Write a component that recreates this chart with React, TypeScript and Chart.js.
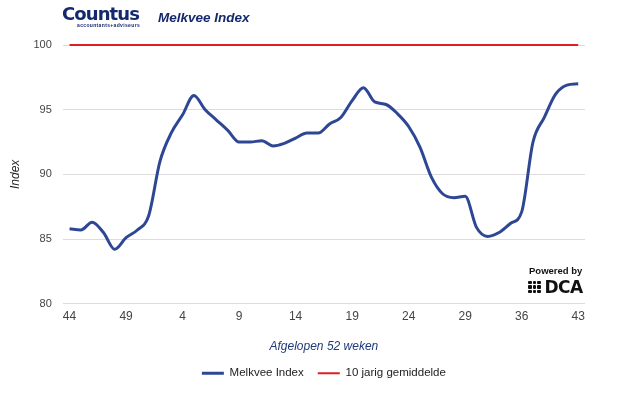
import React, { useEffect, useRef } from "react";
import { Chart, registerables } from "chart.js";

Chart.register(...registerables);

const weekTickLabels = ["44", "49", "4", "9", "14", "19", "24", "29", "36", "43"];
const tickEvery = 5;

const melkveeIndex = [
  85.8, 85.7, 86.3, 85.5, 84.2, 85.1, 85.7, 86.8, 91.0, 93.2,
  94.6, 96.1, 95.0, 94.2, 93.4, 92.5, 92.5, 92.6, 92.2, 92.4,
  92.8, 93.2, 93.2, 93.9, 94.4, 95.7, 96.7, 95.6, 95.4, 94.7,
  93.7, 92.1, 89.8, 88.5, 88.2, 88.3, 85.9, 85.2, 85.5, 86.2,
  87.1, 92.5, 94.4, 96.2, 96.9, 97.0,
];
const tienJarigGemiddelde = melkveeIndex.map(() => 100);

const yTicks = [80, 85, 90, 95, 100];

const FONT = "Liberation Sans, Arial, sans-serif";

export default function App() {
  const ref = useRef<HTMLCanvasElement | null>(null);

  useEffect(() => {
    if (!ref.current) return;
    const n = melkveeIndex.length;
    const chart = new Chart(ref.current, {
      type: "line",
      data: {
        datasets: [
          {
            label: "Melkvee Index",
            data: melkveeIndex.map((v, i) => ({ x: i, y: v })),
            borderColor: "#2e4795",
            backgroundColor: "#2e4795",
            borderWidth: 3,
            pointRadius: 0,
            cubicInterpolationMode: "monotone",
            fill: false,
            clip: false,
          },
          {
            label: "10 jarig gemiddelde",
            data: tienJarigGemiddelde.map((v, i) => ({ x: i, y: v })),
            borderColor: "#e02020",
            backgroundColor: "#e02020",
            borderWidth: 2,
            pointRadius: 0,
            fill: false,
            clip: false,
          },
        ],
      },
      options: {
        animation: false,
        responsive: false,
        maintainAspectRatio: false,
        layout: { padding: { top: 45, left: 8, right: 40, bottom: 4 } },
        plugins: {
          legend: {
            position: "bottom",
            fullSize: false,
            labels: {
              usePointStyle: true,
              pointStyle: "line",
              pointStyleWidth: 22,
              boxHeight: 12,
              color: "#222",
              padding: 14,
              font: { family: FONT, size: 11.5 },
            },
          },
          tooltip: { enabled: false },
        },
        scales: {
          x: {
            type: "linear",
            min: -0.6,
            max: n - 1 + 0.6,
            afterBuildTicks: (scale: any) => {
              scale.ticks = weekTickLabels.map((_, k) => ({ value: k * tickEvery }));
            },
            ticks: {
              autoSkip: false,
              maxRotation: 0,
              padding: 6,
              color: "#444",
              font: { family: FONT, size: 12 },
              callback: (value: any) => weekTickLabels[Math.round(Number(value) / tickEvery)] ?? "",
            },
            grid: { display: false, drawTicks: false },
            border: { display: false },
            title: {
              display: true,
              text: "Afgelopen 52 weken",
              color: "#1f3a7a",
              padding: { top: 9, bottom: 0 },
              font: { family: FONT, size: 12, style: "italic" },
            },
          },
          y: {
            min: 80,
            max: 100,
            afterBuildTicks: (scale: any) => {
              scale.ticks = yTicks.map((v) => ({ value: v }));
            },
            ticks: {
              padding: 11,
              color: "#444",
              font: { family: FONT, size: 11 },
            },
            grid: { color: "#dcdcdc", drawTicks: false },
            border: { display: false },
            title: {
              display: true,
              text: "Index",
              color: "#222",
              padding: { top: 0, bottom: 0 },
              font: { family: FONT, size: 12, style: "italic" },
            },
          },
        },
      },
    });
    return () => chart.destroy();
  }, []);

  const dot: React.CSSProperties = {
    width: 3.5,
    height: 3.5,
    borderRadius: 1,
    background: "#111",
  };

  return (
    <div
      style={{
        position: "absolute",
        left: 0,
        top: 0,
        width: 625,
        height: 393,
        background: "#fff",
        fontFamily: FONT,
      }}
    >
      <canvas ref={ref} width={625} height={393} style={{ position: "absolute", left: 0, top: 0 }} />
      <div style={{ position: "absolute", left: 62, top: 5, color: "#14286e", lineHeight: 1 }}>
        <div style={{ fontSize: 18, fontWeight: 900, letterSpacing: -0.9, fontFamily: "DejaVu Sans, sans-serif" }}>Countus</div>
        <div style={{ fontSize: 5, fontWeight: 700, marginLeft: 15, marginTop: 0, letterSpacing: 0.35 }}>accountants+adviseurs</div>
      </div>
      <div
        style={{
          position: "absolute",
          left: 158,
          top: 10,
          fontSize: 13.5,
          fontWeight: 700,
          fontStyle: "italic",
          color: "#14286e",
          fontFamily: FONT,
        }}
      >
        Melkvee Index
      </div>
      <div style={{ position: "absolute", left: 528, top: 266, color: "#111", lineHeight: 1 }}>
        <div style={{ fontSize: 9.5, fontWeight: 700, marginLeft: 1 }}>Powered by</div>
        <div style={{ display: "flex", alignItems: "center", marginTop: 3 }}>
          <div style={{ display: "grid", gridTemplateColumns: "repeat(3, 3.5px)", gap: 1, marginRight: 4 }}>
            {Array.from({ length: 9 }).map((_, k) => (
              <div key={k} style={dot} />
            ))}
          </div>
          <div style={{ fontSize: 17, fontWeight: 900, fontFamily: "DejaVu Sans, sans-serif", letterSpacing: -0.5 }}>DCA</div>
        </div>
      </div>
    </div>
  );
}
